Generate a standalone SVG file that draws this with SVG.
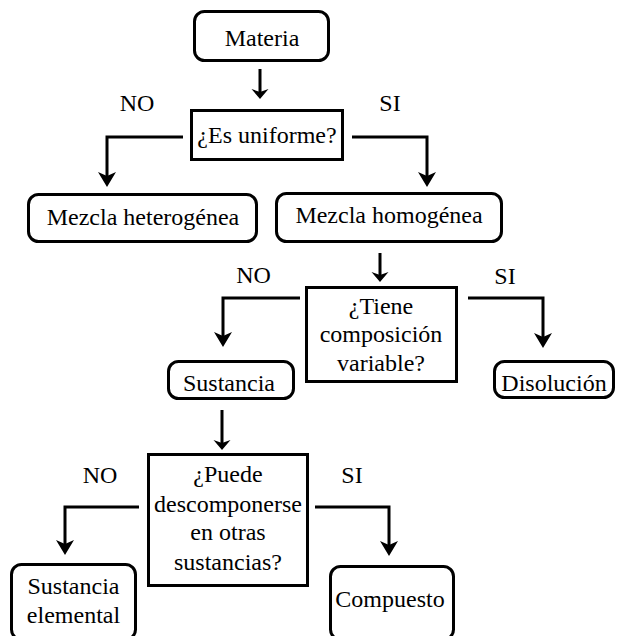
<svg xmlns="http://www.w3.org/2000/svg" width="617" height="636" viewBox="0 0 617 636">
<style>
  .box { fill: #ffffff; stroke: #000000; stroke-width: 3; }
  .t { font-family: 'Liberation Serif', 'Times New Roman', serif; font-size: 24px; fill: #000000; text-anchor: middle; }
  .conn { fill: none; stroke: #000000; stroke-width: 3; stroke-linejoin: miter; }
</style>
<defs>
  <marker id="big" markerUnits="userSpaceOnUse" viewBox="0 -10 16 20" markerWidth="16" markerHeight="20" refX="7" refY="0" orient="auto">
    <path d="M15,0 L0,-9 L4,0 L0,9 Z" fill="#000000"/>
  </marker>
  <marker id="small" markerUnits="userSpaceOnUse" viewBox="0 -9 11 18" markerWidth="11" markerHeight="18" refX="5" refY="0" orient="auto">
    <path d="M10,0 L0,-8.5 L3,0 L0,8.5 Z" fill="#000000"/>
  </marker>
</defs>
<rect width="617" height="636" fill="#ffffff"/>

<g id="connectors">
  <path class="conn" d="M260,69 V94" marker-end="url(#small)"/>
  <path class="conn" d="M380,253 V277" marker-end="url(#small)"/>
  <path class="conn" d="M222,410 V445" marker-end="url(#small)"/>
  <path class="conn" d="M183,137 H107 V179" marker-end="url(#big)"/>
  <path class="conn" d="M352,137 H427 V179" marker-end="url(#big)"/>
  <path class="conn" d="M300,298 H223 V339" marker-end="url(#big)"/>
  <path class="conn" d="M468,298 H543 V340" marker-end="url(#big)"/>
  <path class="conn" d="M139,507 H65 V547" marker-end="url(#big)"/>
  <path class="conn" d="M315,507 H389 V548" marker-end="url(#big)"/>
</g>

<g id="labels">
  <text class="t" x="137" y="111">NO</text>
  <text class="t" x="390" y="111">SI</text>
  <text class="t" x="253.5" y="283">NO</text>
  <text class="t" x="505" y="284">SI</text>
  <text class="t" x="100" y="483">NO</text>
  <text class="t" x="352" y="483">SI</text>
</g>

<g id="materia">
  <rect class="box" x="194.5" y="11.5" width="134" height="49" rx="10"/>
  <text class="t" x="262" y="46">Materia</text>
</g>
<g id="es-uniforme">
  <rect class="box" x="191.5" y="110.5" width="151" height="49"/>
  <text class="t" x="267" y="143">¿Es uniforme?</text>
</g>
<g id="mezcla-heterogenea">
  <rect class="box" x="28.5" y="194.5" width="228" height="47" rx="10"/>
  <text class="t" x="143" y="225">Mezcla heterogénea</text>
</g>
<g id="mezcla-homogenea">
  <rect class="box" x="276.5" y="193.5" width="225" height="48" rx="10"/>
  <text class="t" x="389" y="223">Mezcla homogénea</text>
</g>
<g id="tiene-composicion">
  <rect class="box" x="306.5" y="287.5" width="150" height="94"/>
  <text class="t" x="381" y="314">¿Tiene</text>
  <text class="t" x="381" y="342">composición</text>
  <text class="t" x="381" y="371">variable?</text>
</g>
<g id="sustancia">
  <rect class="box" x="168.5" y="361.5" width="125" height="37" rx="10"/>
  <text class="t" x="229" y="391">Sustancia</text>
</g>
<g id="disolucion">
  <rect class="box" x="494.5" y="361.5" width="119" height="36" rx="10"/>
  <text class="t" x="554" y="391">Disolución</text>
</g>
<g id="puede-descomponerse">
  <rect class="box" x="148.5" y="454.5" width="159" height="131"/>
  <text class="t" x="228" y="482">¿Puede</text>
  <text class="t" x="228" y="512">descomponerse</text>
  <text class="t" x="228" y="540">en otras</text>
  <text class="t" x="228" y="570">sustancias?</text>
</g>
<g id="sustancia-elemental">
  <rect class="box" x="11.5" y="564.5" width="124" height="75" rx="10"/>
  <text class="t" x="73.5" y="594">Sustancia</text>
  <text class="t" x="73.5" y="623">elemental</text>
</g>
<g id="compuesto">
  <rect class="box" x="330.5" y="566.5" width="123" height="73" rx="10"/>
  <text class="t" x="390" y="607">Compuesto</text>
</g>
</svg>
